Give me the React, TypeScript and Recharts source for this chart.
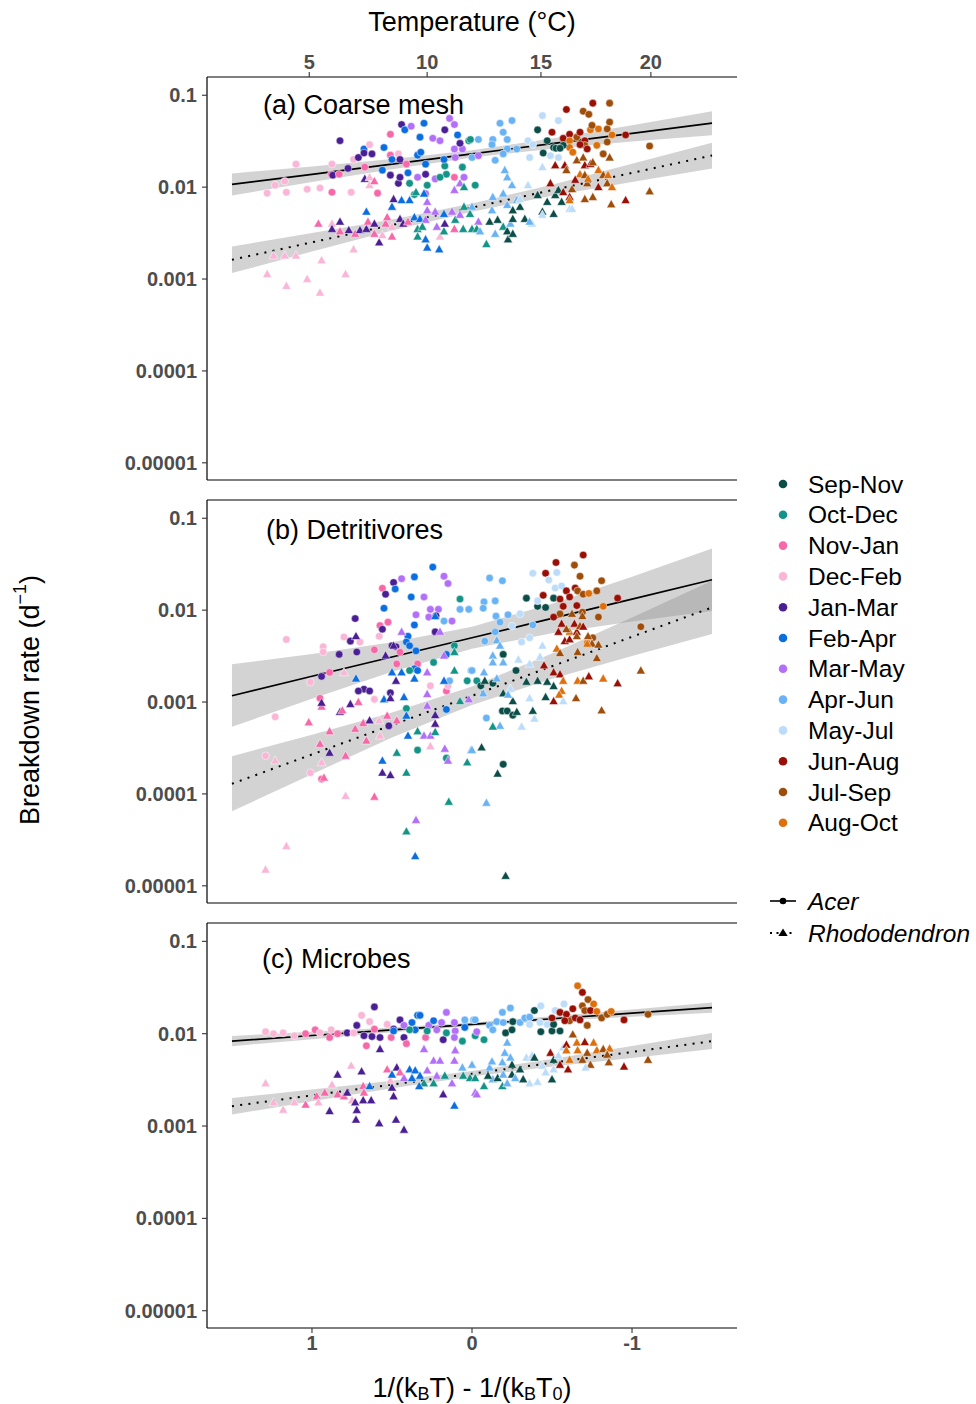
import React from 'react';
import { ComposedChart, Scatter, Line, Area, XAxis, YAxis } from 'recharts';

const FONT = '"Liberation Sans", Arial, Helvetica, sans-serif';

const monthLabels = ['Sep-Nov', 'Oct-Dec', 'Nov-Jan', 'Dec-Feb', 'Jan-Mar', 'Feb-Apr', 'Mar-May', 'Apr-Jun', 'May-Jul', 'Jun-Aug', 'Jul-Sep', 'Aug-Oct'];
const monthColors = ['#0b4d47', '#139487', '#f768a8', '#f9b6d6', '#4b1f94', '#0b6ee0', '#b26ff8', '#69b3f5', '#bcdcfa', '#990f06', '#9e4e0a', '#dd6f0c'];

const yTicks = [0.1, 0.01, 0.001, 0.0001, 0.00001];
const yTickLabels = ['0.1', '0.01', '0.001', '0.0001', '0.00001'];
const xTicks = [1, 0, -1];
const tempTicks = [5, 10, 15, 20];

// [x = 1/(kB T) - 1/(kB T0), breakdown rate, season index]
const coarseAcer = [
  [0.825, 0.032, 4], [1.10, 0.0178, 3], [1.28, 0.0086, 3], [1.16, 0.0088, 3], [1.23, 0.0105, 3], [1.17, 0.0116, 3], [1.03, 0.0095, 3], [0.95, 0.0098, 3], [0.875, 0.0178, 3], [0.88, 0.0138, 2], [0.875, 0.0088, 2], [0.87, 0.0135, 4], [0.83, 0.0138, 2], [0.775, 0.016, 4], [0.74, 0.020, 3], [0.71, 0.021, 4], [0.675, 0.026, 5], [0.64, 0.029, 3], [0.67, 0.0165, 2], [0.755, 0.0088, 3], [0.59, 0.0086, 2], [0.675, 0.0235, 4], [0.625, 0.023, 4], [0.51, 0.0376, 2], [0.44, 0.048, 4], [0.42, 0.042, 5], [0.38, 0.046, 6], [0.51, 0.0223, 2], [0.50, 0.020, 5], [0.55, 0.027, 5], [0.46, 0.023, 3], [0.45, 0.020, 4], [0.56, 0.0153, 5], [0.51, 0.0135, 4], [0.46, 0.011, 4], [0.45, 0.0128, 4], [0.40, 0.0143, 5], [0.41, 0.0178, 2], [0.325, 0.035, 5], [0.30, 0.0496, 5], [0.245, 0.034, 6], [0.34, 0.0223, 5], [0.29, 0.0178, 5], [0.29, 0.0138, 4], [0.32, 0.024, 5], [0.20, 0.032, 6], [0.17, 0.042, 4], [0.14, 0.056, 6], [0.11, 0.048, 6], [0.09, 0.037, 5], [0.17, 0.017, 1], [0.16, 0.0138, 1], [0.175, 0.020, 5], [0.11, 0.026, 6], [0.06, 0.026, 6], [0.075, 0.030, 4], [0.02, 0.032, 1], [0.06, 0.0165, 1], [0.05, 0.0128, 6], [0.23, 0.0123, 6], [0.28, 0.0105, 1], [0.34, 0.0128, 6], [0.20, 0.0128, 1], [0.11, 0.0128, 2], [0.39, 0.011, 1], [0.36, 0.0083, 1], [0.29, 0.0085, 6], [0.105, 0.021, 6], [0.0, 0.021, 7], [-0.02, 0.0105, 1],
  [0.01, 0.033, 1], [-0.04, 0.033, 7], [-0.13, 0.033, 7], [-0.175, 0.0496, 7], [-0.25, 0.053, 7], [-0.195, 0.0396, 7], [-0.22, 0.033, 7], [-0.125, 0.029, 7], [-0.22, 0.026, 7], [-0.28, 0.026, 7], [-0.195, 0.023, 7], [-0.145, 0.0196, 7], [-0.04, 0.022, 6], [-0.44, 0.060, 8], [-0.41, 0.042, 0], [-0.35, 0.032, 8], [-0.38, 0.029, 8], [-0.36, 0.021, 8], [-0.445, 0.0235, 0], [-0.47, 0.032, 0], [-0.54, 0.053, 8], [-0.51, 0.027, 0], [-0.525, 0.0265, 0], [-0.50, 0.0396, 9], [-0.59, 0.070, 9], [-0.57, 0.034, 9], [-0.61, 0.0376, 9], [-0.655, 0.035, 10], [-0.695, 0.067, 10], [-0.73, 0.062, 10], [-0.755, 0.082, 9], [-0.86, 0.082, 10], [-0.86, 0.051, 10], [-0.845, 0.043, 10], [-0.675, 0.0396, 9], [-0.705, 0.032, 9], [-0.74, 0.042, 11], [-0.79, 0.043, 11], [-0.75, 0.047, 10], [-0.78, 0.0285, 11], [-0.845, 0.031, 10], [-0.875, 0.037, 11], [-0.82, 0.023, 10], [-0.705, 0.0285, 10], [-0.72, 0.026, 9], [-0.675, 0.029, 9], [-0.61, 0.032, 11], [-0.61, 0.027, 11], [-0.63, 0.024, 11], [-0.57, 0.0285, 0], [-0.55, 0.0265, 0], [-0.96, 0.037, 9], [-1.11, 0.028, 10], [-0.54, 0.021, 8], [-0.49, 0.022, 8],
];

const coarseRhodo = [
  [1.28, 0.00113, 3], [1.16, 0.00084, 3], [1.03, 0.001, 3], [0.95, 0.00071, 3], [0.79, 0.00113, 3], [1.24, 0.0018, 3], [1.17, 0.0018, 3], [1.10, 0.0018, 3], [0.94, 0.0016, 3], [0.74, 0.0021, 3], [0.96, 0.004, 2], [0.875, 0.004, 3], [0.875, 0.0035, 4], [0.825, 0.0042, 4], [0.825, 0.0033, 2], [0.77, 0.0034, 4], [0.73, 0.0031, 2], [0.70, 0.0034, 4], [0.66, 0.0035, 4], [0.66, 0.0054, 5], [0.65, 0.0042, 2], [0.61, 0.004, 4], [0.58, 0.0025, 4], [0.61, 0.0031, 2], [0.54, 0.004, 2], [0.53, 0.0047, 2], [0.50, 0.0037, 3], [0.56, 0.003, 3], [0.50, 0.0029, 2], [0.67, 0.0123, 4], [0.64, 0.0128, 3], [0.64, 0.0105, 3], [0.61, 0.0116, 2], [0.49, 0.0074, 4], [0.50, 0.0061, 5], [0.45, 0.0045, 4], [0.43, 0.004, 4], [0.40, 0.0042, 2], [0.36, 0.0047, 5], [0.325, 0.0045, 5], [0.29, 0.0044, 6], [0.44, 0.0072, 5], [0.39, 0.0072, 5], [0.35, 0.0088, 1], [0.30, 0.0085, 5], [0.28, 0.0069, 6], [0.34, 0.0035, 1], [0.31, 0.0037, 1], [0.34, 0.0029, 1], [0.29, 0.0027, 5], [0.28, 0.0022, 5], [0.205, 0.0021, 5], [0.20, 0.0029, 3], [0.175, 0.0033, 1], [0.22, 0.0037, 6], [0.17, 0.004, 4], [0.11, 0.0035, 2], [0.105, 0.0044, 1], [0.075, 0.005, 6], [0.11, 0.0093, 6], [0.075, 0.011, 6], [0.05, 0.010, 1], [0.05, 0.0061, 1], [0.0, 0.0061, 7], [0.0125, 0.0051, 1], [0.055, 0.0035, 1], [0.0, 0.0035, 1], [0.23, 0.0054, 6], [0.175, 0.0051, 5], [0.125, 0.0054, 6], [0.28, 0.0056, 6],
  [-0.04, 0.0042, 6], [-0.03, 0.0035, 1], [-0.05, 0.0033, 7], [-0.09, 0.0024, 1], [-0.11, 0.0042, 0], [-0.16, 0.0044, 0], [-0.145, 0.0031, 7], [-0.195, 0.0037, 1], [-0.22, 0.0033, 0], [-0.225, 0.0027, 0], [-0.255, 0.0031, 0], [-0.24, 0.004, 7], [-0.255, 0.0045, 0], [-0.33, 0.0045, 0], [-0.375, 0.004, 8], [-0.13, 0.0078, 7], [-0.195, 0.0085, 7], [-0.22, 0.0064, 7], [-0.125, 0.0056, 7], [-0.255, 0.0056, 0], [-0.30, 0.0061, 0], [-0.28, 0.0072, 7], [-0.30, 0.0074, 8], [-0.35, 0.0105, 8], [-0.25, 0.0105, 7], [-0.22, 0.0128, 7], [-0.205, 0.0153, 7], [-0.41, 0.0082, 0], [-0.44, 0.0165, 8], [-0.47, 0.0069, 0], [-0.44, 0.0054, 0], [-0.51, 0.0051, 0], [-0.44, 0.005, 8], [-0.49, 0.011, 9], [-0.52, 0.0082, 0], [-0.56, 0.0069, 0], [-0.61, 0.0058, 8], [-0.54, 0.0093, 0], [-0.57, 0.0088, 9], [-0.61, 0.0078, 9], [-0.625, 0.0095, 10], [-0.52, 0.0173, 9], [-0.58, 0.0173, 9], [-0.59, 0.0153, 10], [-0.655, 0.0196, 10], [-0.695, 0.021, 10], [-0.675, 0.0138, 11], [-0.705, 0.0173, 9], [-0.74, 0.0178, 9], [-0.705, 0.0135, 10], [-0.72, 0.011, 10], [-0.725, 0.0123, 11], [-0.645, 0.012, 9], [-0.79, 0.010, 9], [-0.79, 0.0153, 11], [-0.755, 0.0186, 10], [-0.82, 0.0135, 10], [-0.845, 0.011, 10], [-0.875, 0.010, 11], [-0.86, 0.021, 10], [-0.85, 0.0135, 11], [-0.705, 0.0074, 10], [-0.755, 0.0078, 10], [-0.87, 0.0065, 10], [-0.96, 0.0072, 9], [-1.11, 0.009, 10], [-0.61, 0.0072, 11], [-0.625, 0.0058, 8], [-0.36, 0.0042, 7],
];

const detAcer = [
  [1.16, 0.0048, 3], [1.23, 0.00069, 3], [1.29, 0.00026, 3], [1.01, 0.00165, 3], [1.01, 0.00017, 3], [0.93, 0.004, 3], [0.93, 0.0035, 3], [0.94, 0.0019, 4], [0.89, 0.0021, 2], [0.95, 0.0011, 2], [0.94, 0.000145, 2], [0.83, 0.0033, 4], [0.80, 0.0051, 3], [0.76, 0.0046, 4], [0.73, 0.0081, 4], [0.72, 0.0035, 4], [0.70, 0.0045, 3], [0.675, 0.00138, 4], [0.64, 0.00132, 4], [0.61, 0.0037, 2], [0.61, 0.00107, 3], [0.575, 0.0068, 2], [0.58, 0.0052, 3], [0.56, 0.0062, 4], [0.56, 0.0173, 2], [0.54, 0.0149, 4], [0.55, 0.0105, 5], [0.525, 0.0074, 2], [0.49, 0.020, 4], [0.44, 0.022, 6], [0.48, 0.017, 5], [0.36, 0.023, 5], [0.38, 0.0139, 5], [0.30, 0.0139, 6], [0.245, 0.0294, 5], [0.175, 0.0234, 6], [0.15, 0.0195, 6], [0.35, 0.0089, 6], [0.36, 0.0069, 5], [0.27, 0.0084, 6], [0.26, 0.0102, 6], [0.21, 0.0102, 6], [0.225, 0.0087, 4], [0.23, 0.0058, 4], [0.125, 0.0076, 6], [0.175, 0.0076, 7], [0.075, 0.0132, 1], [0.075, 0.0102, 7], [0.02, 0.0102, 7], [0.50, 0.0041, 4], [0.475, 0.004, 4], [0.45, 0.0035, 2], [0.47, 0.0026, 2], [0.40, 0.0052, 5], [0.41, 0.0045, 5], [0.39, 0.0041, 5], [0.35, 0.0036, 5], [0.34, 0.0026, 2], [0.36, 0.0023, 5], [0.34, 0.0022, 5], [0.39, 0.0022, 1], [0.51, 0.00126, 4], [0.52, 0.00055, 4], [0.41, 0.00085, 1], [0.34, 0.0003, 1], [0.24, 0.0027, 1], [0.16, 0.0033, 5], [0.16, 0.00132, 2], [0.15, 0.0015, 3], [0.16, 0.00083, 5], [0.11, 0.0041, 1], [0.03, 0.0017, 1], [0.006, 0.0022, 7], [0.16, 0.000245, 1], [0.26, 0.0015, 3], [0.14, 0.0017, 7], [0.71, 0.00132, 4],
  [-0.11, 0.0224, 7], [-0.19, 0.0209, 7], [-0.075, 0.0123, 7], [-0.07, 0.0105, 7], [-0.145, 0.0126, 7], [-0.15, 0.0086, 7], [-0.175, 0.0074, 7], [-0.225, 0.0089, 7], [-0.25, 0.0067, 8], [-0.145, 0.0058, 7], [-0.08, 0.0046, 7], [-0.30, 0.0091, 8], [-0.31, 0.0045, 8], [-0.36, 0.005, 8], [-0.38, 0.0252, 8], [-0.34, 0.0135, 0], [-0.41, 0.011, 0], [-0.46, 0.0107, 0], [-0.38, 0.0069, 7], [-0.41, 0.0126, 8], [-0.46, 0.0252, 9], [-0.525, 0.033, 9], [-0.53, 0.0257, 8], [-0.48, 0.0213, 8], [-0.445, 0.0145, 9], [-0.51, 0.0135, 0], [-0.52, 0.0174, 8], [-0.56, 0.0183, 8], [-0.55, 0.0132, 9], [-0.59, 0.0162, 9], [-0.57, 0.011, 9], [-0.61, 0.0139, 9], [-0.645, 0.0174, 9], [-0.695, 0.0398, 9], [-0.64, 0.0309, 10], [-0.675, 0.0234, 10], [-0.66, 0.0162, 10], [-0.695, 0.0149, 10], [-0.73, 0.0152, 11], [-0.69, 0.0095, 10], [-0.655, 0.0112, 9], [-0.78, 0.0162, 10], [-0.81, 0.0209, 10], [-0.82, 0.011, 11], [-0.79, 0.0084, 10], [-0.755, 0.005, 10], [-0.72, 0.0044, 11], [-0.91, 0.0135, 9], [-1.055, 0.0066, 10], [-0.55, 0.0091, 10], [-0.51, 0.0084, 9], [-0.195, 0.0033, 0], [-0.275, 0.0022, 0], [-0.03, 0.0017, 1], [-0.055, 0.0015, 0], [-0.09, 0.00067, 7], [-0.19, 0.0008, 0], [-0.22, 0.0008, 0], [-0.255, 0.00072, 0], [-0.195, 0.00021, 0], [0.0, 0.0022, 7], [-0.13, 0.0016, 0],
];

const detRhodo = [
  [1.29, 0.000015, 3], [1.16, 0.000027, 3], [1.23, 0.00023, 3], [1.02, 0.0006, 2], [0.95, 0.00035, 2], [0.94, 0.00022, 3], [0.94, 0.00089, 2], [0.94, 0.00098, 4], [0.925, 0.00015, 2], [0.89, 0.00048, 2], [0.89, 0.00028, 4], [0.80, 0.0021, 3], [0.825, 0.00078, 4], [0.81, 0.00081, 2], [0.79, 0.000095, 3], [0.79, 0.00026, 2], [0.76, 0.00095, 4], [0.73, 0.00051, 2], [0.725, 0.0052, 4], [0.725, 0.0018, 5], [0.71, 0.001, 2], [0.68, 0.00059, 2], [0.64, 0.00063, 4], [0.66, 0.00038, 2], [0.61, 0.000093, 2], [0.58, 0.00063, 3], [0.575, 0.00043, 3], [0.56, 0.00023, 5], [0.56, 0.00017, 4], [0.51, 0.00016, 4], [0.55, 0.00107, 5], [0.53, 0.00071, 2], [0.51, 0.0011, 4], [0.54, 0.0032, 4], [0.49, 0.0041, 4], [0.50, 0.0021, 5], [0.44, 0.0021, 5], [0.44, 0.0058, 6], [0.475, 0.0017, 4], [0.425, 0.00113, 5], [0.47, 0.00063, 2], [0.41, 0.00071, 5], [0.40, 0.00043, 5], [0.41, 0.00017, 1], [0.41, 0.000039, 1], [0.35, 0.000052, 6], [0.355, 0.000021, 5], [0.36, 0.0018, 5], [0.34, 0.00048, 1], [0.30, 0.00043, 6], [0.28, 0.0021, 6], [0.28, 0.00122, 6], [0.28, 0.00091, 6], [0.26, 0.00043, 6], [0.26, 0.00033, 3], [0.23, 0.00072, 4], [0.23, 0.00058, 4], [0.23, 0.00047, 1], [0.23, 0.0086, 5], [0.20, 0.0058, 6], [0.175, 0.0032, 6], [0.175, 0.0017, 5], [0.17, 0.00031, 6], [0.15, 0.00023, 6], [0.145, 0.000082, 1], [0.11, 0.0035, 1], [0.11, 0.0022, 1], [0.075, 0.00102, 1], [0.03, 0.00022, 1], [0.47, 0.00028, 1], [0.02, 0.00107, 6], [0.006, 0.0003, 7],
  [-0.155, 0.0047, 7], [-0.175, 0.0041, 7], [-0.13, 0.0032, 7], [-0.195, 0.0027, 7], [-0.13, 0.0027, 7], [-0.29, 0.0029, 8], [-0.075, 0.0021, 7], [-0.08, 0.0017, 0], [-0.155, 0.0018, 7], [-0.07, 0.00124, 7], [-0.24, 0.00139, 8], [-0.195, 0.00124, 0], [-0.255, 0.00102, 0], [-0.225, 0.0012, 7], [-0.34, 0.00166, 0], [-0.41, 0.0017, 0], [-0.47, 0.00166, 0], [-0.46, 0.00113, 0], [-0.36, 0.0011, 8], [-0.38, 0.0008, 0], [-0.39, 0.00066, 8], [-0.31, 0.00054, 8], [-0.28, 0.00078, 0], [-0.175, 0.00055, 7], [-0.13, 0.00054, 1], [-0.06, 0.00032, 0], [0.0, 0.0003, 7], [-0.16, 0.000166, 0], [-0.09, 0.00008, 7], [-0.21, 0.0000128, 0], [-0.44, 0.0041, 8], [-0.425, 0.0031, 8], [-0.45, 0.0025, 9], [-0.51, 0.0021, 9], [-0.51, 0.00149, 0], [-0.51, 0.00102, 9], [-0.55, 0.002, 9], [-0.57, 0.0017, 11], [-0.56, 0.00132, 11], [-0.545, 0.0012, 11], [-0.57, 0.00102, 8], [-0.53, 0.0038, 11], [-0.55, 0.0034, 10], [-0.54, 0.0058, 9], [-0.56, 0.0071, 9], [-0.58, 0.0046, 9], [-0.61, 0.0058, 11], [-0.59, 0.0062, 10], [-0.625, 0.0091, 10], [-0.61, 0.0048, 9], [-0.655, 0.0058, 9], [-0.64, 0.0071, 9], [-0.675, 0.0067, 10], [-0.69, 0.0086, 10], [-0.655, 0.0052, 10], [-0.695, 0.0066, 9], [-0.66, 0.0035, 10], [-0.725, 0.0052, 10], [-0.75, 0.0043, 10], [-0.72, 0.0043, 11], [-0.79, 0.0042, 10], [-0.78, 0.003, 10], [-0.66, 0.0017, 11], [-0.695, 0.0017, 10], [-0.73, 0.0019, 9], [-0.82, 0.0018, 11], [-0.91, 0.0016, 9], [-1.055, 0.0022, 10], [-0.81, 0.00081, 10], [-0.65, 0.0011, 10], [-0.36, 0.0026, 8],
];

const micAcer = [
  [1.29, 0.0105, 3], [1.24, 0.010, 3], [1.18, 0.0102, 3], [1.11, 0.0095, 3], [1.04, 0.010, 2], [0.98, 0.011, 2], [0.95, 0.0102, 3], [0.89, 0.0091, 2], [0.88, 0.011, 3], [0.84, 0.010, 2], [0.78, 0.0102, 4], [0.74, 0.0102, 3], [0.69, 0.0158, 3], [0.64, 0.0135, 3], [0.72, 0.0123, 4], [0.675, 0.0095, 4], [0.66, 0.0074, 2], [0.625, 0.0093, 4], [0.61, 0.0195, 4], [0.61, 0.0112, 2], [0.575, 0.0091, 4], [0.53, 0.0126, 3], [0.505, 0.0091, 2], [0.49, 0.0112, 4], [0.45, 0.0141, 4], [0.425, 0.0123, 6], [0.425, 0.0091, 4], [0.41, 0.0078, 2], [0.375, 0.0132, 5], [0.34, 0.0158, 5], [0.325, 0.0158, 5], [0.355, 0.011, 5], [0.39, 0.011, 1], [0.49, 0.0107, 5], [0.29, 0.0091, 2], [0.27, 0.0123, 6], [0.28, 0.0107, 1], [0.24, 0.0138, 5], [0.22, 0.011, 6], [0.19, 0.0132, 6], [0.16, 0.017, 6], [0.18, 0.0086, 4], [0.16, 0.0102, 1], [0.11, 0.0132, 6], [0.105, 0.0107, 6], [0.11, 0.0091, 6], [0.06, 0.0083, 1], [0.045, 0.0141, 7], [0.045, 0.0117, 5], [-0.01, 0.0141, 7], [-0.02, 0.0095, 1],
  [-0.02, 0.0141, 7], [-0.075, 0.0086, 1], [-0.03, 0.0105, 6], [-0.11, 0.0123, 7], [-0.13, 0.011, 7], [-0.155, 0.0135, 7], [-0.19, 0.017, 7], [-0.24, 0.019, 7], [-0.21, 0.0102, 0], [-0.25, 0.011, 0], [-0.195, 0.0132, 7], [-0.255, 0.0135, 0], [-0.30, 0.0132, 7], [-0.33, 0.0148, 7], [-0.36, 0.0151, 7], [-0.39, 0.0178, 0], [-0.36, 0.0126, 8], [-0.43, 0.020, 8], [-0.43, 0.0105, 0], [-0.425, 0.0132, 8], [-0.47, 0.0126, 8], [-0.50, 0.0107, 0], [-0.51, 0.0126, 0], [-0.55, 0.0107, 0], [-0.50, 0.0148, 9], [-0.52, 0.0178, 8], [-0.575, 0.021, 8], [-0.55, 0.017, 9], [-0.59, 0.0162, 9], [-0.61, 0.0138, 10], [-0.63, 0.0186, 9], [-0.645, 0.0148, 9], [-0.66, 0.033, 11], [-0.69, 0.028, 9], [-0.69, 0.020, 10], [-0.705, 0.0178, 10], [-0.725, 0.0234, 10], [-0.76, 0.021, 11], [-0.74, 0.0178, 9], [-0.78, 0.0174, 11], [-0.72, 0.0123, 10], [-0.81, 0.0148, 10], [-0.845, 0.0162, 10], [-0.87, 0.0174, 11], [-0.95, 0.0141, 9], [-1.10, 0.0162, 10], [-0.675, 0.0141, 9], [-0.58, 0.0138, 9],
];

const micRhodo = [
  [1.29, 0.0029, 3], [1.24, 0.0018, 3], [1.18, 0.0015, 3], [1.11, 0.0018, 3], [1.04, 0.0017, 2], [0.97, 0.0021, 2], [0.96, 0.0018, 3], [0.92, 0.0023, 2], [0.89, 0.00145, 4], [0.875, 0.0028, 3], [0.84, 0.0036, 4], [0.84, 0.0022, 2], [0.80, 0.0021, 2], [0.78, 0.0023, 4], [0.755, 0.0045, 3], [0.75, 0.0019, 3], [0.73, 0.0018, 4], [0.72, 0.00149, 4], [0.69, 0.0039, 4], [0.68, 0.0027, 2], [0.675, 0.0023, 2], [0.68, 0.0019, 4], [0.725, 0.00117, 4], [0.63, 0.0019, 4], [0.64, 0.0027, 5], [0.58, 0.00107, 4], [0.575, 0.0068, 4], [0.53, 0.0041, 2], [0.51, 0.0031, 3], [0.50, 0.0026, 4], [0.49, 0.0021, 4], [0.475, 0.00117, 4], [0.425, 0.00091, 4], [0.47, 0.0043, 4], [0.50, 0.0036, 5], [0.45, 0.0038, 2], [0.425, 0.0033, 6], [0.39, 0.0041, 5], [0.355, 0.004, 5], [0.375, 0.0033, 5], [0.325, 0.0035, 5], [0.30, 0.0029, 1], [0.30, 0.0068, 6], [0.33, 0.0027, 5], [0.28, 0.004, 6], [0.24, 0.0051, 6], [0.20, 0.0051, 6], [0.22, 0.0035, 6], [0.24, 0.0029, 1], [0.17, 0.0035, 1], [0.18, 0.0022, 4], [0.105, 0.0066, 6], [0.11, 0.0051, 6], [0.125, 0.0029, 6], [0.11, 0.00166, 5], [0.055, 0.0035, 1], [0.0125, 0.0033, 1], [0.0, 0.0046, 7], [0.06, 0.0043, 7], [-0.02, 0.0023, 6],
  [-0.03, 0.0022, 6], [-0.02, 0.0033, 1], [-0.075, 0.0027, 1], [-0.11, 0.0043, 7], [-0.125, 0.005, 7], [-0.19, 0.0049, 7], [-0.22, 0.008, 7], [-0.205, 0.0062, 7], [-0.24, 0.0055, 7], [-0.13, 0.0032, 7], [-0.19, 0.0027, 1], [-0.10, 0.0035, 0], [-0.16, 0.0033, 0], [-0.195, 0.0036, 7], [-0.25, 0.0036, 0], [-0.22, 0.0029, 7], [-0.27, 0.0033, 7], [-0.30, 0.0041, 0], [-0.32, 0.0032, 0], [-0.25, 0.0046, 0], [-0.34, 0.0055, 8], [-0.375, 0.0058, 8], [-0.39, 0.0055, 0], [-0.36, 0.0029, 8], [-0.41, 0.003, 8], [-0.44, 0.0045, 8], [-0.46, 0.0038, 8], [-0.50, 0.0032, 0], [-0.49, 0.0062, 9], [-0.51, 0.0052, 0], [-0.54, 0.0058, 8], [-0.55, 0.0046, 9], [-0.57, 0.0071, 8], [-0.59, 0.0076, 9], [-0.59, 0.0066, 11], [-0.60, 0.0041, 9], [-0.61, 0.0052, 11], [-0.63, 0.0098, 10], [-0.655, 0.008, 11], [-0.66, 0.0066, 11], [-0.705, 0.0081, 9], [-0.72, 0.0062, 10], [-0.69, 0.0052, 10], [-0.74, 0.0046, 10], [-0.76, 0.008, 11], [-0.78, 0.0066, 11], [-0.82, 0.0068, 10], [-0.86, 0.0069, 11], [-0.845, 0.0059, 10], [-0.855, 0.0049, 10], [-0.95, 0.0044, 9], [-1.10, 0.0052, 10], [-0.71, 0.0043, 8], [-0.51, 0.0041, 8],
];

// fitted lines and 95% bands at these x positions
const fitX = [1.5, 1.0, 0.5, 0, -0.5, -1.0, -1.5];

const coarseAcerFit = [0.0107, 0.0138, 0.0178, 0.0230, 0.0298, 0.0385, 0.0497];
const coarseAcerLo = [0.0081, 0.01135, 0.0157, 0.0210, 0.0262, 0.0314, 0.0368];
const coarseAcerHi = [0.0141, 0.0168, 0.0202, 0.0252, 0.0338, 0.0471, 0.0670];
const coarseRhodoFit = [0.00162, 0.00251, 0.00387, 0.00599, 0.00927, 0.0143, 0.0221];
const coarseRhodoLo = [0.00116, 0.00199, 0.00337, 0.0054, 0.00807, 0.01135, 0.0160];
const coarseRhodoHi = [0.00226, 0.00316, 0.00445, 0.00665, 0.01064, 0.0180, 0.0305];

const detAcerFit = [0.00117, 0.00191, 0.00309, 0.00501, 0.00813, 0.0132, 0.0214];
const detAcerLo = [0.000537, 0.001087, 0.00214, 0.0038, 0.00562, 0.0075, 0.0098];
const detAcerHi = [0.00257, 0.00334, 0.00447, 0.0066, 0.01175, 0.0231, 0.0468];
const detRhodoFit = [0.000129, 0.000269, 0.000562, 0.00117, 0.00245, 0.00513, 0.0107];
const detRhodoLo = [0.0000646, 0.000164, 0.00041, 0.00093, 0.00179, 0.00316, 0.0055];
const detRhodoHi = [0.000257, 0.00044, 0.00077, 0.00148, 0.00337, 0.0083, 0.0209];

const micAcerFit = [0.0083, 0.00956, 0.0110, 0.01263, 0.01452, 0.0167, 0.0192];
const micAcerLo = [0.00733, 0.00873, 0.01035, 0.01206, 0.01368, 0.01524, 0.0169];
const micAcerHi = [0.00944, 0.01047, 0.01167, 0.01322, 0.01542, 0.01828, 0.0218];
const micRhodoFit = [0.00164, 0.00215, 0.00281, 0.00369, 0.00484, 0.00634, 0.0083];
const micRhodoLo = [0.00133, 0.00185, 0.00256, 0.00344, 0.0044, 0.00547, 0.00681];
const micRhodoHi = [0.00201, 0.00249, 0.00309, 0.00395, 0.00532, 0.00735, 0.01016];

const KB = 8.617e-5;
const T0 = 285.1;
const tempToX = (t) => 1 / (KB * (t + 273.15)) - 1 / (KB * T0);
const tempTickPos = tempTicks.map(tempToX);
const tempLabel = (v) => {
  let best = 0;
  tempTickPos.forEach((p, i) => { if (Math.abs(p - v) < Math.abs(tempTickPos[best] - v)) best = i; });
  return String(tempTicks[best]);
};

const X_DOMAIN = [-1.656, 1.656];
const Y_DOMAIN = [6.5e-6, 0.158];

const toPts = (arr) => arr.map(([x, y, m]) => ({ x, y, m }));
const buildRows = (af, alo, ahi, rf, rlo, rhi) =>
  fitX.map((x, i) => ({ x, af: af[i], ab: [alo[i], ahi[i]], rf: rf[i], rb: [rlo[i], rhi[i]] }));

const tickStyle = { fill: '#4d4d4d', fontSize: 20, fontWeight: 'bold', fontFamily: FONT };

const yFmt = (v) => {
  const i = yTicks.findIndex((t) => Math.abs(Math.log10(t) - Math.log10(v)) < 1e-6);
  return i >= 0 ? yTickLabels[i] : String(v);
};

const CircleShape = (p) => (
  <circle cx={p.cx} cy={p.cy} r={3.8} fill={monthColors[p.payload.m]} stroke="#ffffff" strokeWidth={0.5} />
);
const TriShape = (p) => {
  const s = 4.8;
  const pts = `${p.cx},${p.cy - s} ${p.cx - s * 0.95},${p.cy + s * 0.7} ${p.cx + s * 0.95},${p.cy + s * 0.7}`;
  return <polygon points={pts} fill={monthColors[p.payload.m]} stroke="#ffffff" strokeWidth={0.5} />;
};

function Panel({ plotTop, plotH, acer, rhodo, rows, showTemp, showX }) {
  const H = plotH + 80;
  return (
    <div style={{ position: 'absolute', left: 0, top: plotTop - 40, width: 976, height: H }}>
      <ComposedChart width={976} height={H} data={rows} margin={{ top: 10, right: 239, bottom: 10, left: 0 }}>
        <XAxis
          xAxisId="b" dataKey="x" type="number" domain={X_DOMAIN} reversed allowDataOverflow
          ticks={xTicks} interval={0} height={30}
          tick={showX ? tickStyle : false} tickLine={showX ? { stroke: '#333333', strokeWidth: 1.1 } : false}
          tickSize={5} tickMargin={3}
          axisLine={{ stroke: '#000000', strokeWidth: 1.2 }}
          tickFormatter={(v) => String(v)}
        />
        <XAxis
          xAxisId="t" dataKey="x" orientation="top" type="number" domain={X_DOMAIN} reversed allowDataOverflow
          ticks={showTemp ? tempTickPos : []} interval={0} height={30}
          tick={showTemp ? tickStyle : false} tickLine={showTemp ? { stroke: '#333333', strokeWidth: 1.1 } : false}
          tickSize={5} tickMargin={3}
          axisLine={{ stroke: '#000000', strokeWidth: 1.2 }}
          tickFormatter={tempLabel}
        />
        <YAxis
          yAxisId="y" type="number" scale="log" domain={Y_DOMAIN} allowDataOverflow
          ticks={yTicks} interval={0} width={207}
          tick={tickStyle} tickLine={{ stroke: '#333333', strokeWidth: 1.1 }} tickSize={5} tickMargin={5}
          axisLine={{ stroke: '#000000', strokeWidth: 1.2 }}
          tickFormatter={yFmt}
        />
        <Area xAxisId="b" yAxisId="y" type="linear" dataKey="ab" stroke="none" fill="#8c8c8c" fillOpacity={0.38} dot={false} activeDot={false} isAnimationActive={false} />
        <Area xAxisId="b" yAxisId="y" type="linear" dataKey="rb" stroke="none" fill="#8c8c8c" fillOpacity={0.38} dot={false} activeDot={false} isAnimationActive={false} />
        <Scatter xAxisId="b" yAxisId="y" data={toPts(acer)} dataKey="y" shape={CircleShape} isAnimationActive={false} />
        <Scatter xAxisId="b" yAxisId="y" data={toPts(rhodo)} dataKey="y" shape={TriShape} isAnimationActive={false} />
        <Line xAxisId="b" yAxisId="y" type="linear" dataKey="af" stroke="#000000" strokeWidth={1.7} dot={false} activeDot={false} isAnimationActive={false} />
        <Line xAxisId="b" yAxisId="y" type="linear" dataKey="rf" stroke="#000000" strokeWidth={2} strokeDasharray="2 6.3" dot={false} activeDot={false} isAnimationActive={false} />
      </ComposedChart>
    </div>
  );
}

function Overlay() {
  const legendY0 = 484;
  const legendStep = 30.8;
  const textStyle = { fontFamily: FONT, fill: '#000000' };
  return (
    <svg width={976} height={1404} style={{ position: 'absolute', left: 0, top: 0, pointerEvents: 'none' }}>
      <text x={472} y={22} textAnchor="middle" dominantBaseline="central" fontSize={27} style={textStyle}>Temperature (°C)</text>
      <text x={263} y={105} dominantBaseline="central" fontSize={27} style={textStyle}>(a) Coarse mesh</text>
      <text x={266} y={530} dominantBaseline="central" fontSize={27} style={textStyle}>(b) Detritivores</text>
      <text x={262} y={959} dominantBaseline="central" fontSize={27} style={textStyle}>(c) Microbes</text>
      <text transform="translate(30,700) rotate(-90)" textAnchor="middle" dominantBaseline="central" fontSize={27} style={textStyle}>
        Breakdown rate (d<tspan dy={-10} fontSize={18}>−1</tspan><tspan dy={10}>)</tspan>
      </text>
      <text x={472} y={1388} textAnchor="middle" dominantBaseline="central" fontSize={27} style={textStyle}>
        1/(k<tspan dy={6} fontSize={18}>B</tspan><tspan dy={-6}>T) - 1/(k</tspan><tspan dy={6} fontSize={18}>B</tspan><tspan dy={-6}>T</tspan><tspan dy={6} fontSize={18}>0</tspan><tspan dy={-6}>)</tspan>
      </text>
      {monthLabels.map((lab, i) => (
        <g key={lab}>
          <circle cx={783} cy={legendY0 + i * legendStep} r={4.3} fill={monthColors[i]} />
          <text x={808} y={legendY0 + i * legendStep} dominantBaseline="central" fontSize={24.5} style={textStyle}>{lab}</text>
        </g>
      ))}
      <line x1={770} x2={796} y1={901} y2={901} stroke="#000" strokeWidth={1.6} />
      <circle cx={783} cy={901} r={3.3} fill="#000" />
      <text x={808} y={901} dominantBaseline="central" fontSize={24.5} fontStyle="italic" style={textStyle}>Acer</text>
      <line x1={770} x2={796} y1={933} y2={933} stroke="#000" strokeWidth={2} strokeDasharray="2 4.5" />
      <polygon points="783,928.5 778.3,936 787.7,936" fill="#000" />
      <text x={808} y={933} dominantBaseline="central" fontSize={24.5} fontStyle="italic" style={textStyle}>Rhododendron</text>
    </svg>
  );
}

export default function App() {
  const rowsA = buildRows(coarseAcerFit, coarseAcerLo, coarseAcerHi, coarseRhodoFit, coarseRhodoLo, coarseRhodoHi);
  const rowsB = buildRows(detAcerFit, detAcerLo, detAcerHi, detRhodoFit, detRhodoLo, detRhodoHi);
  const rowsC = buildRows(micAcerFit, micAcerLo, micAcerHi, micRhodoFit, micRhodoLo, micRhodoHi);
  return (
    <div style={{ position: 'absolute', left: 0, top: 0, width: 976, height: 1404, background: '#ffffff', fontFamily: FONT }}>
      <Panel plotTop={77} plotH={403} acer={coarseAcer} rhodo={coarseRhodo} rows={rowsA} showTemp showX={false} />
      <Panel plotTop={500} plotH={403} acer={detAcer} rhodo={detRhodo} rows={rowsB} showTemp={false} showX={false} />
      <Panel plotTop={923} plotH={405} acer={micAcer} rhodo={micRhodo} rows={rowsC} showTemp={false} showX />
      <Overlay />
    </div>
  );
}
